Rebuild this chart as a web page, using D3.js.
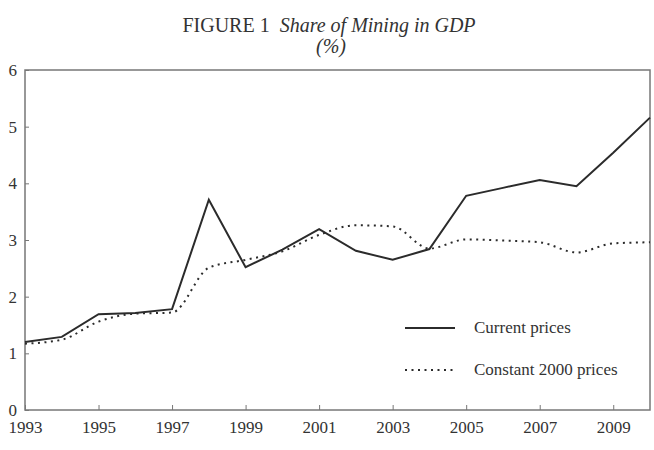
<!DOCTYPE html>
<html>
<head>
<meta charset="utf-8">
<script src="https://cdn.jsdelivr.net/npm/d3@7"></script>
<style>
  body { margin: 0; background: #fff; }
  text { font-family: "Liberation Serif", "DejaVu Serif", serif; fill: #333; }
</style>
</head>
<body>
<div id="chart"></div>
<script>
// data
var years = d3.range(1993, 2011);
var currentPrices = [1.20, 1.29, 1.69, 1.71, 1.78, 3.71, 2.52, 2.83, 3.19, 2.81, 2.65, 2.84, 3.78, 3.92, 4.06, 3.95, 4.54, 5.16];
var constantPrices = [1.17, 1.24, 1.56, 1.70, 1.72, 2.51, 2.65, 2.80, 3.09, 3.26, 3.24, 2.85, 3.01, 2.99, 2.96, 2.78, 2.94, 2.96];
var xTickYears = [1993, 1995, 1997, 1999, 2001, 2003, 2005, 2007, 2009];
var yTicks = [0, 1, 2, 3, 4, 5, 6];
var seriesNames = ["Current prices", "Constant 2000 prices"];

var width = 654, height = 450;
var margin = {top: 70, right: 4, bottom: 40, left: 25};

var svg = d3.select("#chart").append("svg")
  .attr("width", width)
  .attr("height", height);

var x = d3.scaleLinear().domain([1993, 2010]).range([margin.left, width - margin.right]);
var y = d3.scaleLinear().domain([0, 6]).range([height - margin.bottom, margin.top]);

// title
var title = svg.append("text")
  .attr("x", 329)
  .attr("y", 32)
  .attr("text-anchor", "middle")
  .style("font-size", "20px");
title.append("tspan").text("FIGURE 1\u00a0\u00a0");
title.append("tspan").style("font-style", "italic").text("Share of Mining in GDP");

svg.append("text")
  .attr("x", 331)
  .attr("y", 53)
  .attr("text-anchor", "middle")
  .style("font-size", "20px")
  .style("font-style", "italic")
  .text("(%)");

// frame
svg.append("rect")
  .attr("x", x(1993))
  .attr("y", y(6))
  .attr("width", x(2010) - x(1993))
  .attr("height", y(0) - y(6))
  .attr("fill", "none")
  .attr("stroke", "#777")
  .attr("stroke-width", 1.5);

// x axis: ticks point inward
var xAxis = svg.append("g")
  .attr("transform", "translate(0," + y(0) + ")")
  .call(d3.axisBottom(x).tickValues(xTickYears).tickFormat(d3.format("d")).tickSize(-5).tickPadding(11));
xAxis.select(".domain").remove();
xAxis.selectAll("line").attr("stroke", "#777");
xAxis.selectAll("text").style("font-size", "17px").attr("fill", "#333")
  .attr("font-family", null);

// y axis
var yAxis = svg.append("g")
  .attr("transform", "translate(" + x(1993) + ",0)")
  .call(d3.axisLeft(y).tickValues(yTicks).tickFormat(d3.format("d")).tickSize(-4).tickPadding(8));
yAxis.select(".domain").remove();
yAxis.selectAll("line").attr("stroke", "#777");
yAxis.selectAll("text").style("font-size", "17px").attr("fill", "#333")
  .attr("font-family", null);

// lines
var solid = d3.line()
  .x(function(d, i) { return x(years[i]); })
  .y(function(d) { return y(d); });

var smooth = d3.line()
  .x(function(d, i) { return x(years[i]); })
  .y(function(d) { return y(d); })
  .curve(d3.curveMonotoneX);

svg.append("path")
  .datum(constantPrices)
  .attr("d", smooth)
  .attr("fill", "none")
  .attr("stroke", "#2b2b2b")
  .attr("stroke-width", 2)
  .attr("stroke-dasharray", "2,4.5");

svg.append("path")
  .datum(currentPrices)
  .attr("d", solid)
  .attr("fill", "none")
  .attr("stroke", "#2b2b2b")
  .attr("stroke-width", 2);

// legend
var legend = svg.append("g");
legend.append("line")
  .attr("x1", 405).attr("x2", 455).attr("y1", 328).attr("y2", 328)
  .attr("stroke", "#2b2b2b").attr("stroke-width", 2);
legend.append("text")
  .attr("x", 474).attr("y", 333)
  .style("font-size", "17px")
  .text(seriesNames[0]);
legend.append("line")
  .attr("x1", 405).attr("x2", 455).attr("y1", 370).attr("y2", 370)
  .attr("stroke", "#2b2b2b").attr("stroke-width", 2)
  .attr("stroke-dasharray", "2,4.5");
legend.append("text")
  .attr("x", 474).attr("y", 375)
  .style("font-size", "17px")
  .text(seriesNames[1]);
</script>
</body>
</html>
